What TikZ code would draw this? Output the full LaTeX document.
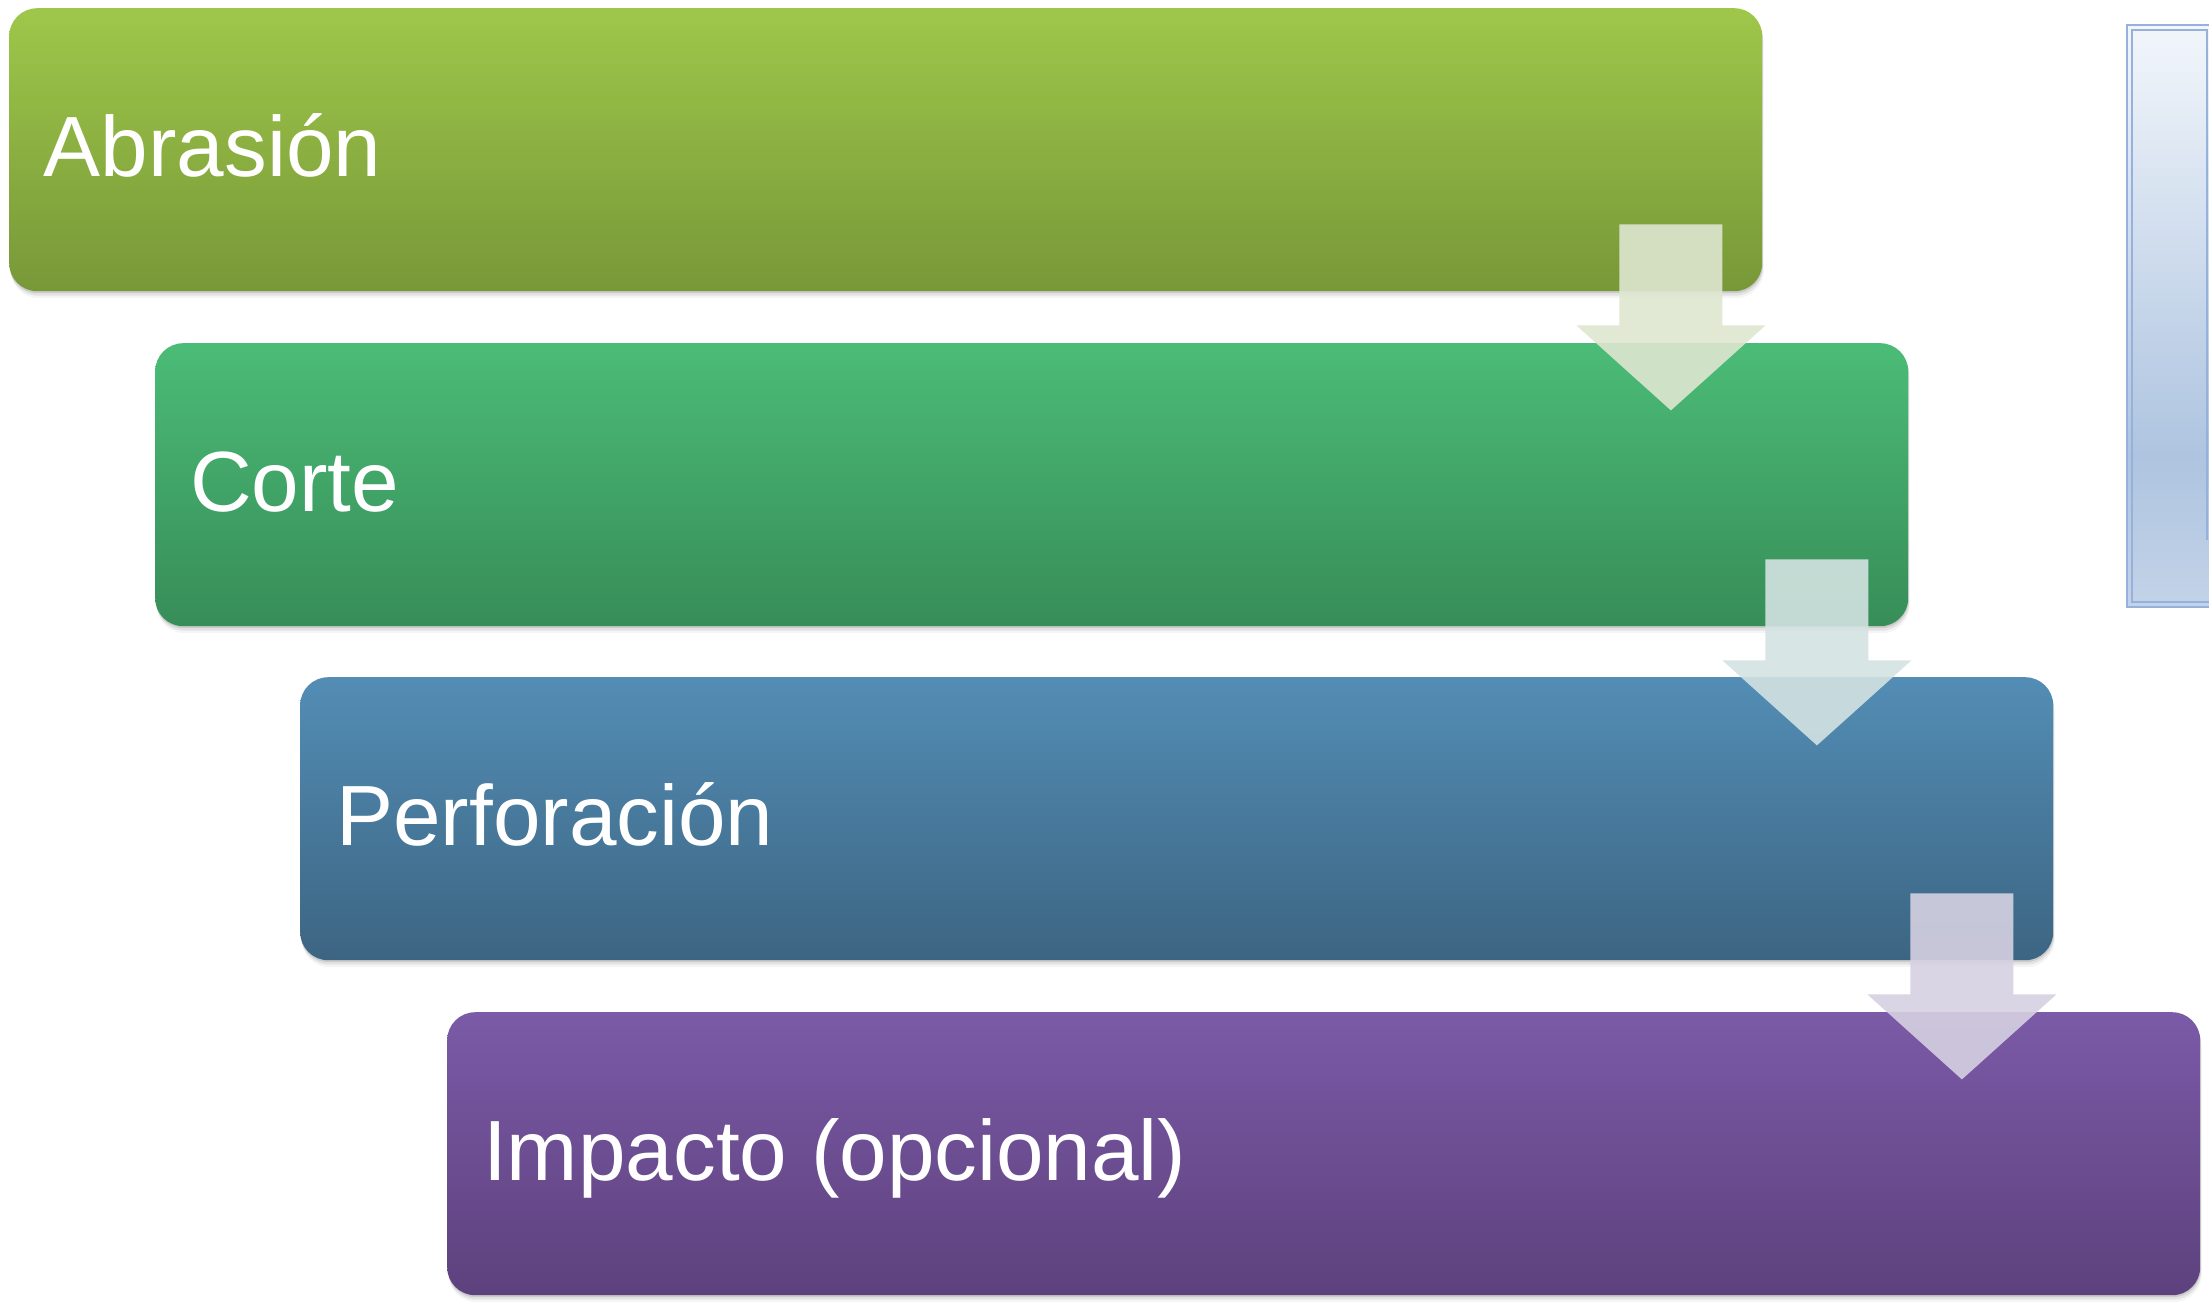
\documentclass[tikz,border=0pt]{standalone}
\usepackage{fontspec}
\setmainfont{Liberation Sans}
\usetikzlibrary{calc}
\definecolor{g1t}{RGB}{158,199,74}
\definecolor{g1b}{RGB}{120,152,56}
\definecolor{g2t}{RGB}{75,188,119}
\definecolor{g2b}{RGB}{55,141,88}
\definecolor{g3t}{RGB}{83,141,181}
\definecolor{g3b}{RGB}{60,101,130}
\definecolor{g4t}{RGB}{123,90,167}
\definecolor{g4b}{RGB}{93,65,125}
\definecolor{ar1}{RGB}{222,230,208}
\definecolor{ar2}{RGB}{211,227,226}
\definecolor{ar3}{RGB}{213,209,226}
\definecolor{rbline}{RGB}{150,177,218}
\pgfdeclareverticalshading{rboxshade}{100bp}{rgb(0bp)=(0.765,0.827,0.910); rgb(25bp)=(0.765,0.827,0.910); rgb(38bp)=(0.682,0.769,0.878); rgb(75bp)=(0.949,0.965,0.984); rgb(100bp)=(0.949,0.965,0.984)}
\newcommand\flowarr[2]{%
  \fill[#2, opacity=0.9] ($(#1)+(-51.5,0)$) -- ++(103,0) -- ++(0,101) -- ++(43,0)
    -- ($(#1)+(0,186)$) -- ($(#1)+(-94.5,101)$) -- ++(43,0) -- cycle;}
\tikzset{
  stepbox/.style={rounded corners=28pt, minimum width=1753pt, minimum height=283pt,
    inner sep=0pt, anchor=north west,
    preaction={fill=black, opacity=0.04, transform canvas={xshift=1.5pt,yshift=-7pt}},
    preaction={fill=black, opacity=0.07, transform canvas={xshift=1pt,yshift=-4.5pt}},
    preaction={fill=black, opacity=0.10, transform canvas={xshift=0.5pt,yshift=-2pt}}},
  lbl/.style={text=white, font=\fontsize{85.5pt}{100pt}\selectfont, inner sep=0pt, anchor=base west}
}
\begin{document}
\begin{tikzpicture}[x=1pt,y=-1pt]
\useasboundingbox (0,0) rectangle (2209,1307);
\fill[white] (0,0) rectangle (2209,1307);
% right partial box
\begin{scope}
\clip (0,0) rectangle (2209,1307);
\shade[shading=rboxshade] (2127,25) rectangle (2260,607);
\draw[rbline, line width=2pt] (2260,25) -- (2127,25) -- (2127,607) -- (2260,607);
\draw[rbline, line width=1.5pt] (2207,540) -- (2207,30) -- (2132,30) -- (2132,602) -- (2260,602);
\end{scope}
% boxes
\node[stepbox, top color=g1t, bottom color=g1b] (b1) at (9,8) {};
\node[stepbox, top color=g2t, bottom color=g2b] (b2) at (155,343) {};
\node[stepbox, top color=g3t, bottom color=g3b] (b3) at (300,677) {};
\node[stepbox, top color=g4t, bottom color=g4b] (b4) at (447,1012) {};
% labels
\node[lbl] (t1) at ($(b1.west)+(34.5,27)$) {Abrasión};
\node[lbl] (t2) at ($(b2.west)+(35,27)$) {Corte};
\node[lbl] (t3) at ($(b3.west)+(36,27)$) {Perforación};
\node[lbl] (t4) at ($(b4.west)+(36,27)$) {Impacto (opcional)};
% arrows
\coordinate (s1) at ($(b1.south east)+(-91.5,-67)$);
\coordinate (s2) at ($(b2.south east)+(-91.5,-67)$);
\coordinate (s3) at ($(b3.south east)+(-91.5,-67)$);
\flowarr{s1}{ar1}
\flowarr{s2}{ar2}
\flowarr{s3}{ar3}
\end{tikzpicture}
\end{document}
